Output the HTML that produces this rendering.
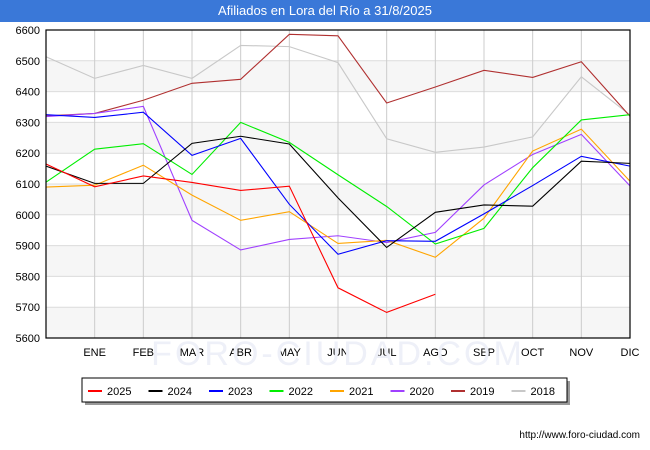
<!DOCTYPE html>
<html><head><meta charset="utf-8"><style>
body{margin:0;width:650px;height:450px;background:#fff;font-family:"Liberation Sans",sans-serif;overflow:hidden}
#title{position:absolute;left:0;top:0;width:650px;height:22px;background:#3a78d8;color:#fff;font-size:13px;text-align:center;line-height:22px}
</style></head><body>
<div id="title">Afiliados en Lora del Río a 31/8/2025</div>
<svg id="c" width="650" height="450" style="position:absolute;left:0;top:0"></svg>
<script>
const months=["","ENE","FEB","MAR","ABR","MAY","JUN","JUL","AGO","SEP","OCT","NOV","DIC"];
const yTicks=[5600,5700,5800,5900,6000,6100,6200,6300,6400,6500,6600];
const years=["2025","2024","2023","2022","2021","2020","2019","2018"];
const colors=["#ff0000","#000000","#0000ff","#00ee00","#ffa500","#a040ff","#b03030","#c8c8c8"];
const s2025=[6165,6091,6126,6105,6079,6093,5763,5683,5742];
const s2024=[6158,6102,6102,6232,6255,6230,6055,5894,6008,6032,6028,6174,6167];
const s2023=[6325,6316,6333,6193,6248,6034,5872,5916,5914,6003,6095,6190,6158];
const s2022=[6106,6213,6231,6131,6300,6235,6130,6027,5905,5956,6153,6308,6325];
const s2021=[6090,6096,6161,6064,5982,6010,5907,5917,5862,5989,6207,6278,6109];
const s2020=[6319,6329,6352,5982,5886,5920,5932,5910,5943,6097,6196,6261,6094];
const s2019=[6321,6329,6372,6427,6440,6586,6581,6363,6415,6469,6446,6497,6320];
const s2018=[6513,6443,6485,6443,6550,6546,6494,6247,6203,6220,6253,6448,6324];
const series=[s2025,s2024,s2023,s2022,s2021,s2020,s2019,s2018];
const L=46,R=630,T=30,B=338;
const x=i=>L+i*(R-L)/12;
const y=v=>B-(v-5600)*(B-T)/1000;
const svg=document.getElementById('c');
const NS="http://www.w3.org/2000/svg";
function mk(t,a,p){const e=document.createElementNS(NS,t);for(const k in a)e.setAttribute(k,a[k]);(p||svg).appendChild(e);return e;}
for(let i=0;i<yTicks.length-1;i++){
 if(i%2===0){const r=mk('rect',{x:L,y:y(yTicks[i+1]),width:R-L,height:y(yTicks[i])-y(yTicks[i+1]),fill:'#f6f6f6'});
 
 }
}
yTicks.forEach(v=>{
 const g=mk('line',{x1:L,x2:R,y1:y(v),y2:y(v),stroke:'#dcdcdc','stroke-width':1});
 
 
 const t=mk('text',{x:L-6,y:y(v)+4,'text-anchor':'end','font-size':11,fill:'#000'});
 t.textContent=v;
 
 
});
months.forEach((m,i)=>{
 if(i===0)return;
 const g=mk('line',{x1:x(i),x2:x(i),y1:T,y2:B,stroke:'#cccccc','stroke-width':1});
 
 
 const t=mk('text',{x:x(i),y:B+18,'text-anchor':'middle','font-size':11,fill:'#000'});
 t.textContent=m;
 
 
});
const wm=mk('text',{x:338,y:365,'text-anchor':'middle','font-size':34,fill:'#eef0f8','letter-spacing':3});
wm.textContent="FORO-CIUDAD.COM";


for(let k=series.length-1;k>=0;k--){
 const pts=series[k].map((v,i)=>x(i)+','+y(v)).join(' ');
 const p=mk('polyline',{points:pts,fill:'none',stroke:colors[k],'stroke-width':1.1});
 
 
}
const fr=mk('rect',{x:L,y:T,width:R-L,height:B-T,fill:'none',stroke:'#000','stroke-width':1.2});


const lg=mk('g',{});


mk('rect',{x:85,y:381,width:485,height:24,fill:'#999'},lg);
mk('rect',{x:82,y:378,width:485,height:24,fill:'#fff',stroke:'#000','stroke-width':1},lg);
years.forEach((yr,k)=>{
 const lx=88+k*60.5;
 const e=mk('g',{},lg);
 
 
 mk('line',{x1:lx,x2:lx+14,y1:391,y2:391,stroke:colors[k],'stroke-width':2},e);
 const t=mk('text',{x:lx+19,y:395,'font-size':11,fill:'#000'},e);
 t.textContent=yr;
});
const u=mk('text',{x:640,y:438,'text-anchor':'end','font-size':10,fill:'#000'});
u.textContent="http://www.foro-ciudad.com";


</script>
</body></html>
